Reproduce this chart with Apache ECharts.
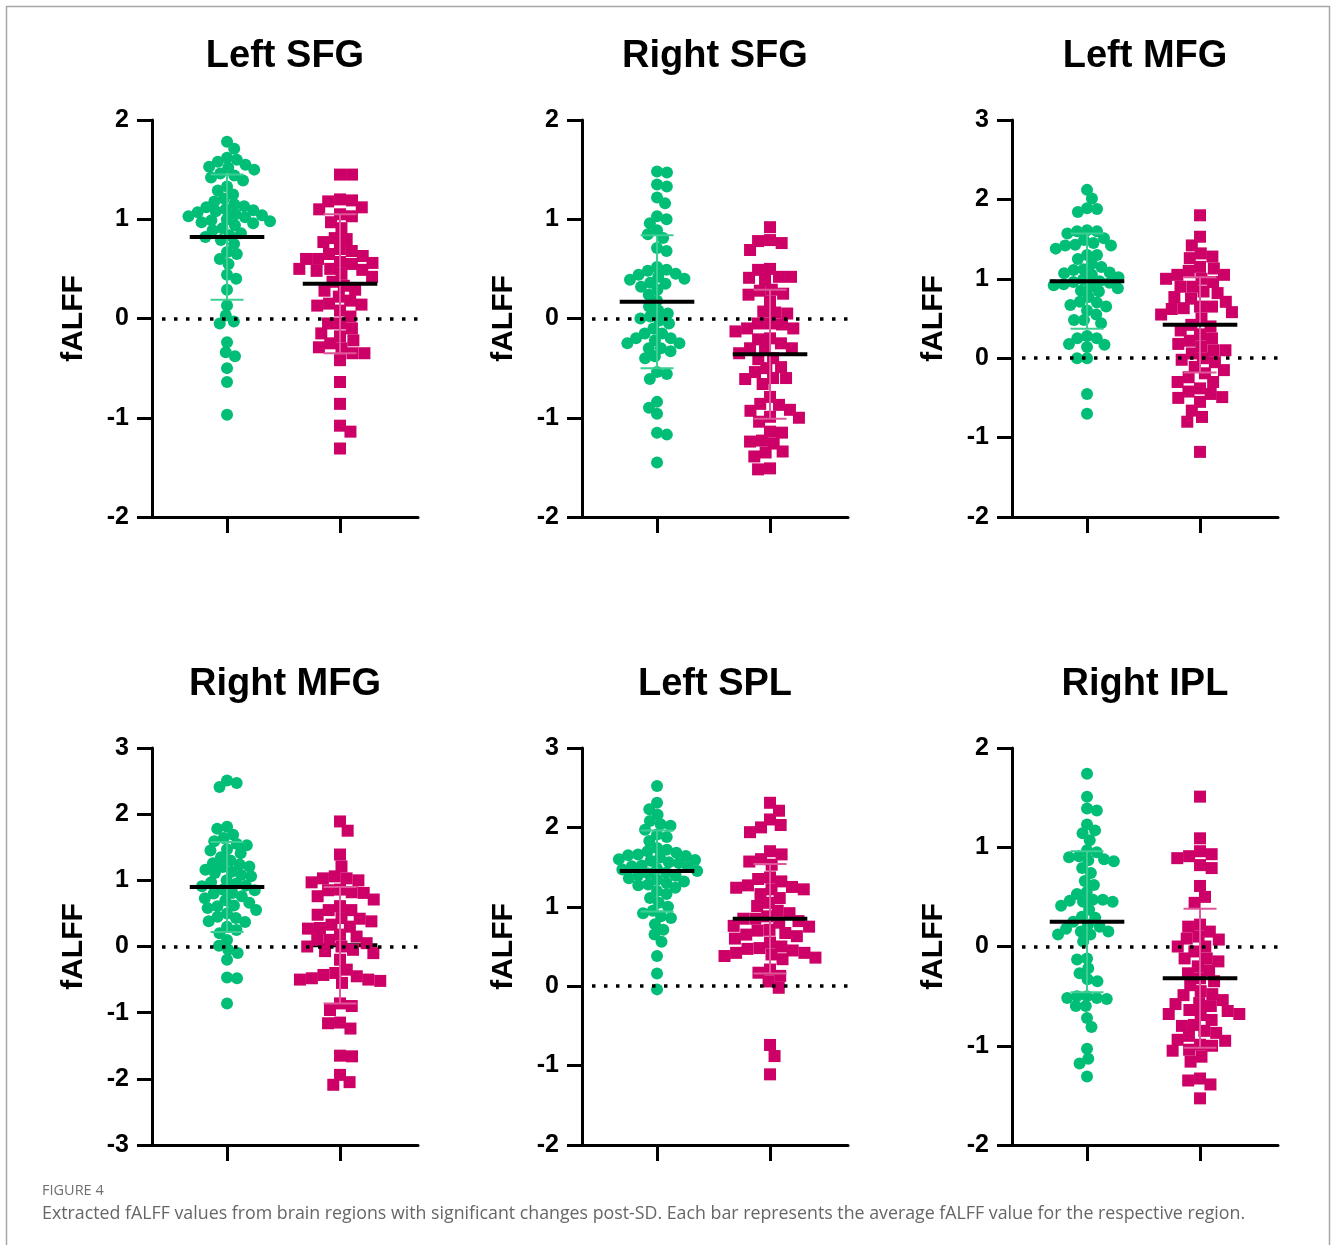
<!DOCTYPE html>
<html><head><meta charset="utf-8">
<script src="https://cdn.jsdelivr.net/npm/echarts@6/dist/echarts.min.js"></script>
<style>html,body{margin:0;padding:0;background:#fff}#c{width:1333px;height:1245px}</style>
</head><body><div id="c"></div>
<script>
// ---------- data ----------
const titles = ['Left SFG', 'Right SFG', 'Left MFG', 'Right MFG', 'Left SPL', 'Right IPL'];
const yMins = [-2, -2, -2, -3, -2, -2];
const yMaxs = [2, 2, 3, 3, 3, 2];
const categories = [1, 2];

const greenLeftSFG = [1.78,1.71,1.62,1.60,1.58,1.55,1.53,1.52,1.50,1.46,1.44,1.42,1.39,1.33,1.29,1.25,1.21,1.18,1.15,1.13,1.12,1.10,1.09,1.08,1.07,1.05,1.04,1.03,1.02,1.00,0.99,0.98,0.97,0.96,0.94,0.91,0.89,0.86,0.84,0.82,0.79,0.75,0.67,0.65,0.60,0.55,0.44,0.40,0.29,0.13,0.03,-0.03,-0.05,-0.24,-0.34,-0.38,-0.50,-0.64,-0.97];
const magentaLeftSFG = [1.45,1.45,1.20,1.19,1.18,1.12,1.10,1.05,1.03,0.97,0.91,0.81,0.80,0.77,0.70,0.68,0.65,0.63,0.60,0.60,0.57,0.56,0.55,0.50,0.50,0.49,0.48,0.45,0.42,0.37,0.33,0.29,0.28,0.22,0.18,0.15,0.14,0.13,0.08,0.02,-0.05,-0.05,-0.10,-0.15,-0.18,-0.22,-0.25,-0.29,-0.30,-0.35,-0.35,-0.42,-0.64,-0.86,-1.08,-1.14,-1.31];
const greenRightSFG = [1.48,1.47,1.35,1.33,1.22,1.16,1.03,1.00,0.96,0.89,0.85,0.81,0.71,0.68,0.52,0.49,0.48,0.45,0.44,0.42,0.40,0.39,0.36,0.35,0.32,0.29,0.24,0.18,0.12,0.08,0.05,0.02,0.00,-0.02,-0.05,-0.10,-0.15,-0.15,-0.20,-0.20,-0.22,-0.25,-0.25,-0.30,-0.30,-0.33,-0.38,-0.40,-0.54,-0.56,-0.61,-0.84,-0.90,-0.96,-1.15,-1.17,-1.45];
const magentaRightSFG = [0.92,0.79,0.78,0.76,0.69,0.50,0.49,0.42,0.42,0.41,0.39,0.29,0.28,0.25,0.24,0.17,0.07,0.06,0.05,-0.05,-0.05,-0.06,-0.10,-0.10,-0.13,-0.20,-0.21,-0.25,-0.30,-0.30,-0.31,-0.35,-0.40,-0.41,-0.49,-0.50,-0.54,-0.60,-0.60,-0.61,-0.66,-0.79,-0.86,-0.87,-0.92,-0.93,-0.99,-1.00,-1.04,-1.14,-1.15,-1.23,-1.24,-1.26,-1.34,-1.35,-1.39,-1.51,-1.52];
const greenLeftMFG = [2.12,2.01,1.89,1.88,1.84,1.61,1.60,1.60,1.57,1.51,1.49,1.45,1.43,1.42,1.42,1.38,1.30,1.30,1.25,1.19,1.15,1.12,1.11,1.08,1.07,1.05,1.02,0.99,0.97,0.96,0.95,0.93,0.92,0.90,0.88,0.85,0.84,0.77,0.71,0.70,0.67,0.65,0.60,0.55,0.48,0.48,0.44,0.28,0.25,0.25,0.18,0.17,0.14,0.00,0.00,-0.45,-0.70];
const magentaLeftMFG = [1.80,1.53,1.42,1.32,1.28,1.26,1.15,1.13,1.10,1.05,1.05,1.00,1.00,0.96,0.90,0.90,0.84,0.82,0.77,0.75,0.71,0.65,0.65,0.63,0.62,0.58,0.55,0.50,0.42,0.40,0.35,0.30,0.25,0.22,0.18,0.15,0.10,0.10,0.06,0.00,-0.02,-0.05,-0.11,-0.15,-0.19,-0.24,-0.30,-0.30,-0.38,-0.42,-0.45,-0.49,-0.50,-0.55,-0.66,-0.74,-0.80,-1.18];
const greenRightMFG = [2.51,2.47,2.41,1.81,1.78,1.69,1.64,1.59,1.55,1.53,1.47,1.45,1.41,1.35,1.30,1.26,1.24,1.21,1.20,1.16,1.13,1.11,1.08,1.06,1.00,0.97,0.95,0.92,0.91,0.86,0.85,0.81,0.80,0.76,0.73,0.70,0.66,0.62,0.61,0.58,0.55,0.50,0.45,0.43,0.38,0.37,0.30,0.25,0.20,0.10,0.01,-0.05,-0.10,-0.20,-0.47,-0.48,-0.86];
const magentaRightMFG = [1.89,1.75,1.39,1.21,1.06,1.03,1.03,1.00,0.97,0.86,0.85,0.82,0.81,0.76,0.71,0.61,0.55,0.55,0.48,0.43,0.42,0.38,0.33,0.30,0.28,0.27,0.18,0.15,0.10,0.10,0.05,0.00,0.00,-0.05,-0.07,-0.10,-0.20,-0.35,-0.40,-0.43,-0.45,-0.48,-0.50,-0.50,-0.52,-0.55,-0.86,-0.90,-0.96,-1.15,-1.16,-1.24,-1.65,-1.66,-1.94,-2.05,-2.09];
const greenLeftSPL = [2.52,2.31,2.23,2.16,2.08,2.04,2.02,1.97,1.91,1.88,1.83,1.74,1.72,1.70,1.68,1.66,1.65,1.64,1.62,1.60,1.59,1.58,1.56,1.55,1.52,1.51,1.50,1.48,1.47,1.45,1.43,1.42,1.40,1.39,1.36,1.34,1.32,1.30,1.28,1.27,1.24,1.20,1.16,1.11,1.05,1.00,0.95,0.92,0.88,0.86,0.78,0.71,0.65,0.56,0.38,0.16,-0.04];
const magentaLeftSPL = [2.31,2.21,2.10,2.03,2.00,1.94,1.70,1.66,1.60,1.57,1.53,1.37,1.35,1.32,1.27,1.25,1.24,1.22,1.22,1.16,1.11,1.05,1.01,0.95,0.92,0.88,0.85,0.85,0.82,0.80,0.76,0.75,0.71,0.70,0.67,0.65,0.63,0.60,0.55,0.50,0.48,0.47,0.45,0.42,0.42,0.40,0.38,0.36,0.34,0.21,0.17,0.13,0.06,-0.02,-0.74,-0.88,-1.11];
const greenRightIPL = [1.74,1.51,1.39,1.37,1.23,1.17,1.14,1.07,0.97,0.95,0.91,0.90,0.88,0.87,0.86,0.79,0.74,0.66,0.62,0.55,0.53,0.47,0.47,0.46,0.45,0.45,0.41,0.37,0.30,0.29,0.25,0.22,0.20,0.18,0.15,0.15,0.12,0.12,0.05,-0.12,-0.13,-0.22,-0.27,-0.33,-0.35,-0.50,-0.50,-0.52,-0.52,-0.53,-0.60,-0.60,-0.72,-0.81,-1.03,-1.13,-1.18,-1.31];
const magentaRightIPL = [1.51,1.09,0.96,0.93,0.91,0.89,0.82,0.79,0.61,0.50,0.44,0.22,0.20,0.15,0.10,0.08,0.07,0.00,0.00,-0.05,-0.12,-0.12,-0.15,-0.20,-0.24,-0.27,-0.32,-0.35,-0.39,-0.45,-0.48,-0.49,-0.54,-0.57,-0.58,-0.60,-0.64,-0.65,-0.68,-0.68,-0.69,-0.74,-0.79,-0.80,-0.85,-0.87,-0.90,-0.94,-0.95,-0.99,-1.00,-1.04,-1.05,-1.11,-1.16,-1.33,-1.35,-1.39,-1.53];

const greenGroups = [greenLeftSFG, greenRightSFG, greenLeftMFG, greenRightMFG, greenLeftSPL, greenRightIPL];
const magentaGroups = [magentaLeftSFG, magentaRightSFG, magentaLeftMFG, magentaRightMFG, magentaLeftSPL, magentaRightIPL];
const greenMeans = [0.82, 0.17, 0.97, 0.90, 1.45, 0.25];
const greenSDs = [0.63, 0.67, 0.60, 0.68, 0.51, 0.71];
const magentaMeans = [0.35, -0.36, 0.42, 0.02, 0.85, -0.32];
const magentaSDs = [0.70, 0.65, 0.60, 0.88, 0.69, 0.70];
// whether the mean line is drawn above the points (in the Right MFG magenta group it sits behind them)
const magentaMeanOnTop = [true, true, true, false, true, true];

// ---------- layout & style ----------
const GREEN = '#00BE76', MAGENTA = '#CC0066';
const GREEN_BAR = '#3ccf93', MAGENTA_BAR = '#e0569a';
const FONT = "'Liberation Sans', Arial, Helvetica, sans-serif";
const gridLefts = [152, 582, 1012];
const gridTops = [120, 748];
const GW = 266, GH = 397;
const X_MIN = 0.336, X_MAX = 2.69;
const PX_PER_X = GW / (X_MAX - X_MIN);

function swarm(vals, ky, d) {
  const idx = vals.map((v, i) => i).sort((a, b) => vals[b] - vals[a]);
  const placed = [];
  const out = new Array(vals.length);
  let flip = 1;
  for (const i of idx) {
    const y = vals[i] * ky;
    const near = placed.filter(p => Math.abs(p.y - y) < d);
    const cands = [0];
    near.forEach(p => {
      const dx = Math.sqrt(d * d - (p.y - y) * (p.y - y));
      cands.push(p.x + dx, p.x - dx);
    });
    cands.sort((a, b) => (Math.abs(a) - Math.abs(b)) || (a - b) * flip);
    let chosen = 0;
    for (const c of cands) {
      if (near.every(p => (p.x - c) * (p.x - c) + (p.y - y) * (p.y - y) >= d * d - 1e-6)) { chosen = c; break; }
    }
    flip = -flip;
    placed.push({ x: chosen, y });
    out[i] = chosen;
  }
  return out;
}

function renderStats(params, api) {
  const c = api.value(0), m = api.value(1), s = api.value(2), g = api.value(3), drawBar = api.value(4), drawMean = api.value(5);
  const barColor = g === 0 ? GREEN_BAR : MAGENTA_BAR;
  const top = api.coord([c, m + s]), bot = api.coord([c, m - s]);
  const capL = api.coord([c - 0.146, 0])[0], capR = api.coord([c + 0.146, 0])[0];
  const mL = api.coord([c - 0.33, m]), mR = api.coord([c + 0.33, m]);
  const children = [];
  if (drawBar) {
    children.push(
      { type: 'line', shape: { x1: top[0], y1: top[1], x2: bot[0], y2: bot[1] }, style: { stroke: barColor, lineWidth: 2 } },
      { type: 'line', shape: { x1: capL, y1: top[1], x2: capR, y2: top[1] }, style: { stroke: barColor, lineWidth: 2 } },
      { type: 'line', shape: { x1: capL, y1: bot[1], x2: capR, y2: bot[1] }, style: { stroke: barColor, lineWidth: 2 } });
  }
  if (drawMean) {
    children.push({ type: 'line', shape: { x1: mL[0], y1: mL[1], x2: mR[0], y2: mR[1] }, style: { stroke: '#000', lineWidth: 4 } });
  }
  return { type: 'group', children };
}

const grid = [], xAxis = [], yAxis = [], series = [], graphic = [];
for (let p = 0; p < 6; p++) {
  const col = p % 3, row = Math.floor(p / 3);
  const left = gridLefts[col], top = gridTops[row];
  grid.push({ left: left, top: top, width: GW, height: GH, containLabel: false });
  xAxis.push({
    gridIndex: p, type: 'value', min: X_MIN, max: X_MAX,
    axisLine: { show: true, onZero: false, lineStyle: { color: '#000', width: 3 } },
    axisTick: { show: true, customValues: categories, length: 16, lineStyle: { color: '#000', width: 3 } },
    axisLabel: { show: false },
    splitLine: { show: false }
  });
  yAxis.push({
    gridIndex: p, type: 'value', min: yMins[p], max: yMaxs[p], interval: 1,
    name: 'fALFF', nameLocation: 'middle', nameGap: 63,
    nameTextStyle: { fontFamily: FONT, fontSize: 30, fontWeight: 'bold', color: '#000' },
    axisLine: { show: true, onZero: false, lineStyle: { color: '#000', width: 3 } },
    axisTick: { show: true, length: 15, lineStyle: { color: '#000', width: 3 } },
    axisLabel: { fontFamily: FONT, fontSize: 25, fontWeight: 'bold', color: '#000', margin: 23 },
    splitLine: { show: false }
  });
  const ky = GH / (yMaxs[p] - yMins[p]);
  // zero reference line
  series.push({
    type: 'line', xAxisIndex: p, yAxisIndex: p, data: [], z: 1, silent: true,
    markLine: {
      silent: true, symbol: ['none', 'none'], label: { show: false },
      lineStyle: { color: '#000', type: [3.5, 8.5], dashOffset: -10, width: 3.5 },
      emphasis: { disabled: true },
      data: [{ yAxis: 0 }]
    }
  });
  // mean lines that sit behind the points
  series.push({
    type: 'custom', xAxisIndex: p, yAxisIndex: p, z: 1.5, silent: true, clip: false,
    encode: { x: 0, y: 1 },
    data: [[categories[1], magentaMeans[p], magentaSDs[p], 1, 0, magentaMeanOnTop[p] ? 0 : 1]],
    renderItem: renderStats
  });
  const groups = [greenGroups[p], magentaGroups[p]];
  const colors = [GREEN, MAGENTA];
  const symbols = ['circle', 'rect'];
  const spacing = [10, 12];
  groups.forEach((vals, g) => {
    const offs = swarm(vals, ky, spacing[g]);
    series.push({
      type: 'scatter', xAxisIndex: p, yAxisIndex: p, z: 2, silent: true,
      symbol: symbols[g], symbolSize: 12,
      itemStyle: { color: colors[g], opacity: 1 },
      data: vals.map((v, i) => [categories[g] + offs[i] / PX_PER_X, v])
    });
  });
  series.push({
    type: 'custom', xAxisIndex: p, yAxisIndex: p, z: 3, silent: true, clip: false,
    encode: { x: 0, y: 1 },
    data: [[categories[0], greenMeans[p], greenSDs[p], 0, 1, 1],
           [categories[1], magentaMeans[p], magentaSDs[p], 1, 1, magentaMeanOnTop[p] ? 1 : 0]],
    renderItem: renderStats
  });
  graphic.push({
    type: 'text', x: left + GW / 2, y: row === 0 ? 57 : 685, silent: true,
    style: { text: titles[p], fill: '#000', font: 'bold 38px ' + FONT, textAlign: 'center', textVerticalAlign: 'middle' }
  });
}
graphic.push({ type: 'rect', silent: true, shape: { x: 6.5, y: 6.5, width: 1323, height: 1270 }, style: { fill: 'none', stroke: '#a6a6a6', lineWidth: 1.5 }, z: -10 });
graphic.push({ type: 'text', x: 42, y: 1191, silent: true, style: { text: 'FIGURE 4', fill: '#707070', font: '14.5px "Open Sans", sans-serif', textVerticalAlign: 'middle' } });
graphic.push({ type: 'text', x: 42, y: 1214, silent: true, style: { text: 'Extracted fALFF values from brain regions with significant changes post-SD. Each bar represents the average fALFF value for the respective region.', fill: '#666666', font: '17.8px "Open Sans", sans-serif', textVerticalAlign: 'middle' } });

const chart = echarts.init(document.getElementById('c'), null, { renderer: 'canvas' });
chart.setOption({ backgroundColor: '#fff', animation: false, grid, xAxis, yAxis, series, graphic });
</script>
</body></html>
